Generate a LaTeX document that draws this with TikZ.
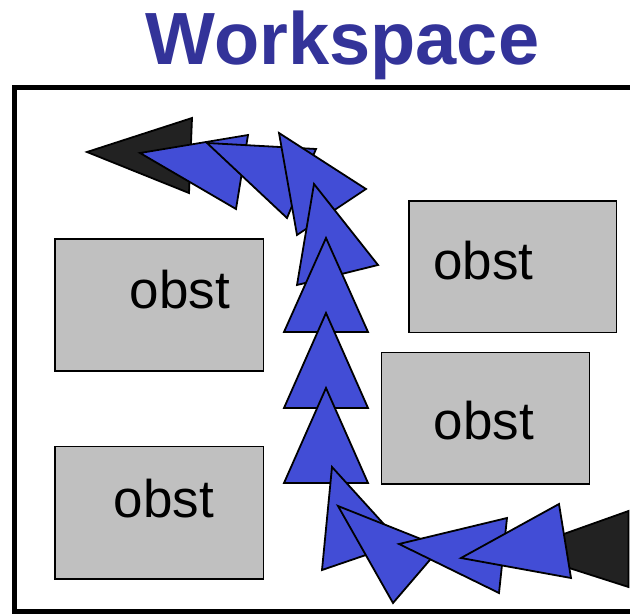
\documentclass[tikz,border=0pt]{standalone}
\usepackage{fontspec}
\setmainfont{Liberation Sans}
\definecolor{triblue}{RGB}{66,77,214}
\definecolor{titleblue}{RGB}{51,51,153}
\definecolor{obstgray}{RGB}{192,192,192}
\definecolor{goalblack}{RGB}{34,34,34}
\begin{document}
\begin{tikzpicture}[x=1pt,y=-1pt,
  tri/.style={fill=triblue,draw=black,line width=1.8pt,line join=miter},
  endtri/.style={fill=goalblack,draw=black,line width=1.8pt,line join=miter},
  obstbox/.style={draw=black,fill=obstgray,line width=1.5pt,inner sep=0pt,rectangle},
  obsttext/.style={anchor=base,inner sep=0pt,font=\fontsize{53}{58}\selectfont},
  frameline/.style={line width=5pt,line join=miter}]
\useasboundingbox (0,0) rectangle (630,615);
% title
\node[anchor=base,inner sep=0pt,text=titleblue,font=\fontsize{74}{80}\selectfont\bfseries] (title) at (342.5,65) {Workspace};
% frame
\draw[frameline] (650,88) -- (14,88) -- (14,611) -- (650,611);
% obstacles
\node[obstbox,minimum width=208.3pt,minimum height=131.7pt] (o1) at (159.2,304.9) {};
\node[obstbox,minimum width=207.7pt,minimum height=131.7pt] (o2) at (512.8,266.8) {};
\node[obstbox,minimum width=207.6pt,minimum height=131.7pt] (o3) at (485.5,418.2) {};
\node[obstbox,minimum width=208.3pt,minimum height=132.3pt] (o4) at (159.2,512.8) {};
\node[obsttext] (t1) at (179.7,308.3) {obst};
\node[obsttext] (t2) at (483.3,279.3) {obst};
\node[obsttext] (t3) at (483.8,439) {obst};
\node[obsttext] (t4) at (163.7,517.7) {obst};
% goal and start
\draw[endtri] (87,152) -- (192,118) -- (189,193) -- cycle;
\draw[endtri] (516,551) -- (628.5,511) -- (628.5,587) -- cycle;
% path of robot poses
\draw[tri] (140,153) -- (248,135) -- (236,209) -- cycle;
\draw[tri] (207,143) -- (316,149) -- (287,218) -- cycle;
\draw[tri] (279,133) -- (366,189) -- (297,235) -- cycle;
\draw[tri] (314,184) -- (378,265) -- (297,285) -- cycle;
\draw[tri] (326,238) -- (284,332) -- (368,332) -- cycle;
\draw[tri] (326,313) -- (284,408) -- (368,408) -- cycle;
\draw[tri] (326,388) -- (284,483) -- (368,483) -- cycle;
\draw[tri] (332,467) -- (322,570) -- (401,543) -- cycle;
\draw[tri] (338,506) -- (393,603) -- (441,547) -- cycle;
\draw[tri] (399,544) -- (507,518) -- (499,593) -- cycle;
\draw[tri] (461,558) -- (559,504) -- (571,578) -- cycle;
\end{tikzpicture}
\end{document}
